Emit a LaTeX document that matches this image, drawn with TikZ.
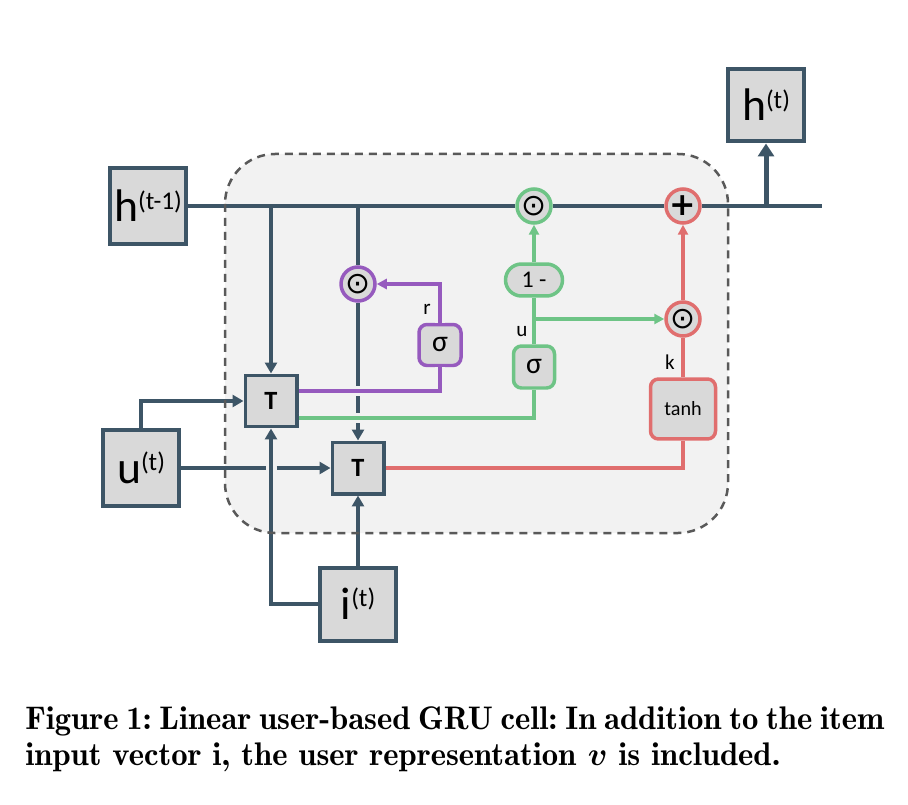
\RequirePackage{fix-cm}
\documentclass[tikz,border=0pt]{standalone}
\usepackage{amsmath,amssymb}
\usepackage{fontspec}
\newfontfamily\calfont{Carlito}
\newfontfamily\symfont{DejaVu Sans}
\usetikzlibrary{positioning}
\usetikzlibrary{arrows.meta}
\pgfdeclarelayer{background}
\pgfdeclarelayer{foreground}
\pgfsetlayers{background,main,foreground}
\definecolor{slate}{RGB}{61,85,102}
\definecolor{boxgray}{RGB}{217,217,217}
\definecolor{cellgray}{RGB}{242,242,242}
\definecolor{dashgray}{RGB}{89,89,89}
\definecolor{ugreen}{RGB}{110,196,134}
\definecolor{rviolet}{RGB}{150,90,190}
\definecolor{kred}{RGB}{224,110,110}
\newcommand{\sups}[1]{\raisebox{0.28em}{\fontsize{14.5}{15}\selectfont #1}}
\newcommand{\capfont}{\fontencoding{OT1}\fontfamily{cmr}\fontseries{b}\fontshape{n}\fontsize{18.6}{21}\selectfont\frenchspacing}

\begin{document}
\begin{tikzpicture}[x=0.02cm, y=-0.02cm,
			box/.style={draw=slate, line width=0.08cm, fill=boxgray, inner sep=0pt, minimum width=1.52cm, minimum height=1.52cm, font=\calfont\fontsize{26}{26}\selectfont},
			gate/.style={draw=slate, line width=0.07cm, fill=boxgray, inner sep=0pt, minimum size=1.03cm, font=\calfont\bfseries\fontsize{15}{15}\selectfont},
			opnode/.style={circle, draw=#1, line width=0.07cm, fill=boxgray, inner sep=0pt, minimum size=0.68cm, font=\symfont\fontsize{17}{17}\selectfont},
			actbox/.style={rounded corners=0.16cm, draw=#1, line width=0.07cm, fill=boxgray, inner sep=0pt, font=\calfont\fontsize{17}{17}\selectfont},
			lbl/.style={font=\calfont\fontsize{12}{12}\selectfont, inner sep=0pt},
			dk/.style={draw=slate, line width=0.08cm},
			arr/.style={-{Triangle[length=0.22cm, width=0.24cm]}},
			carr/.style={-{Triangle[length=0.2cm, width=0.2cm]}},
			pline/.style={draw=rviolet, line width=0.075cm, preaction={draw=cellgray, line width=0.2cm}},
			gline/.style={draw=ugreen, line width=0.075cm},
			rline/.style={draw=kred, line width=0.075cm},
			]
			\useasboundingbox (0,0) rectangle (908,804);
			%Nodes
			\node[box]      (hprev)      at 	(148,206)      {h\sups{(t-1)}};
			\node[box, minimum height=1.46cm]      (hnext)      at 	(766,105)      {h\sups{(t)}};
			\node[box]      (uin)      at 	(141,468)      {u\sups{(t)}};
			\node[box, minimum height=1.46cm]      (iin)      at 	(358,604)      {i\sups{(t)}};
			\node[gate]      (gt1)      at 	(271,401)      {T};
			\node[gate]      (gt2)      at 	(358,468)      {T};
			\node[opnode=rviolet]      (rmul)      at 	(358,284)      {⊙};
			\node[actbox=rviolet, minimum width=0.84cm, minimum height=0.82cm]      (rsig)      at 	(440,345)      {σ};
			\node[actbox=ugreen, minimum width=0.82cm, minimum height=0.84cm]      (usig)      at 	(534,367)      {σ};
			\node[actbox=ugreen, rounded corners=0.32cm, minimum width=1.14cm, minimum height=0.64cm, font=\calfont\fontsize{13.6}{14}\selectfont]      (onem)      at 	(534,280)      {1 -};
			\node[opnode=ugreen]      (umul)      at 	(534,206)      {⊙};
			\node[opnode=kred]      (kmul)      at 	(683,319)      {⊙};
			\node[actbox=kred, minimum width=1.3cm, minimum height=1.2cm, font=\calfont\fontsize{11.5}{12}\selectfont]      (tanhbox)      at 	(683,409)      {tanh};
			\node[opnode=kred, font=\symfont\bfseries\fontsize{18}{18}\selectfont]      (plus)      at 	(683,206)      {+};
			\coordinate      (hend)      at 	(822,206);
			\node[lbl]      (rlab)      at 	(427,309)      {r};
			\node[lbl]      (ulab)      at 	(522,332)      {u};
			\node[lbl]      (klab)      at 	(670,362)      {k};
			\node[anchor=north west, inner sep=0pt, text width=17.2cm, align=justify, font=\capfont]      (caption)      at 	(25,706)
			{Figure 1: Linear user-based GRU cell: In addition to the item\linebreak input vector i, the user representation $\boldsymbol{v}$ is included.};
			
			\begin{pgfonlayer}{background}
			%Cell
			\fill[cellgray, rounded corners=1cm] (225,154) rectangle (728,533);
			\end{pgfonlayer}
			\begin{pgfonlayer}{foreground}
			\draw[dashgray, line width=0.05cm, dash pattern=on 0.16cm off 0.12cm, rounded corners=1cm] (225,154) rectangle (728,533);
			\end{pgfonlayer}
			
			%Lines
			\draw[dk] (hprev.east) -- (umul.west) (umul.east) -- (plus.west) (plus.east) -- (hend);
			\draw[dk, line width=0.1cm, -{Triangle[length=0.26cm, width=0.32cm]}] (hnext.south |- hend) -- (hnext.south);
			\draw[dk, arr] (gt1.north |- hprev) -- (gt1.north);
			\draw[dk] (rmul.north |- hprev) -- (rmul.north);
			\draw[dk, arr] (rmul.south) -- (gt2.north);
			\draw[dk, arr] (uin.north) |- (gt1.west);
			\draw[dk] (uin.east) -- ([xshift=-0.11cm]gt1.south |- uin.east);
			\draw[dk, arr] ([xshift=0.11cm]gt1.south |- uin.east) -- (gt2.west);
			\draw[dk, arr] (iin.north) -- (gt2.south);
			\draw[dk, arr] (iin.west) -| (gt1.south);
			
			\draw[pline] ([yshift=0.2cm]gt1.east) -| (rsig.south);
			\draw[pline, carr] (rsig.north) |- (rmul.east);
			\draw[gline, preaction={draw=cellgray, line width=0.2cm}] ([yshift=-0.34cm]gt1.east) -| (usig.south);
			\draw[gline] (usig.north) -- (onem.south);
			\draw[gline, carr] (onem.north) -- (umul.south);
			\draw[gline, carr] (usig.north |- kmul) -- (kmul.west);
			\draw[rline] (gt2.east) -| (tanhbox.south);
			\draw[rline] (tanhbox.north) -- (kmul.south);
			\draw[rline, carr] (kmul.north) -- (plus.south);
		\end{tikzpicture}
\end{document}
